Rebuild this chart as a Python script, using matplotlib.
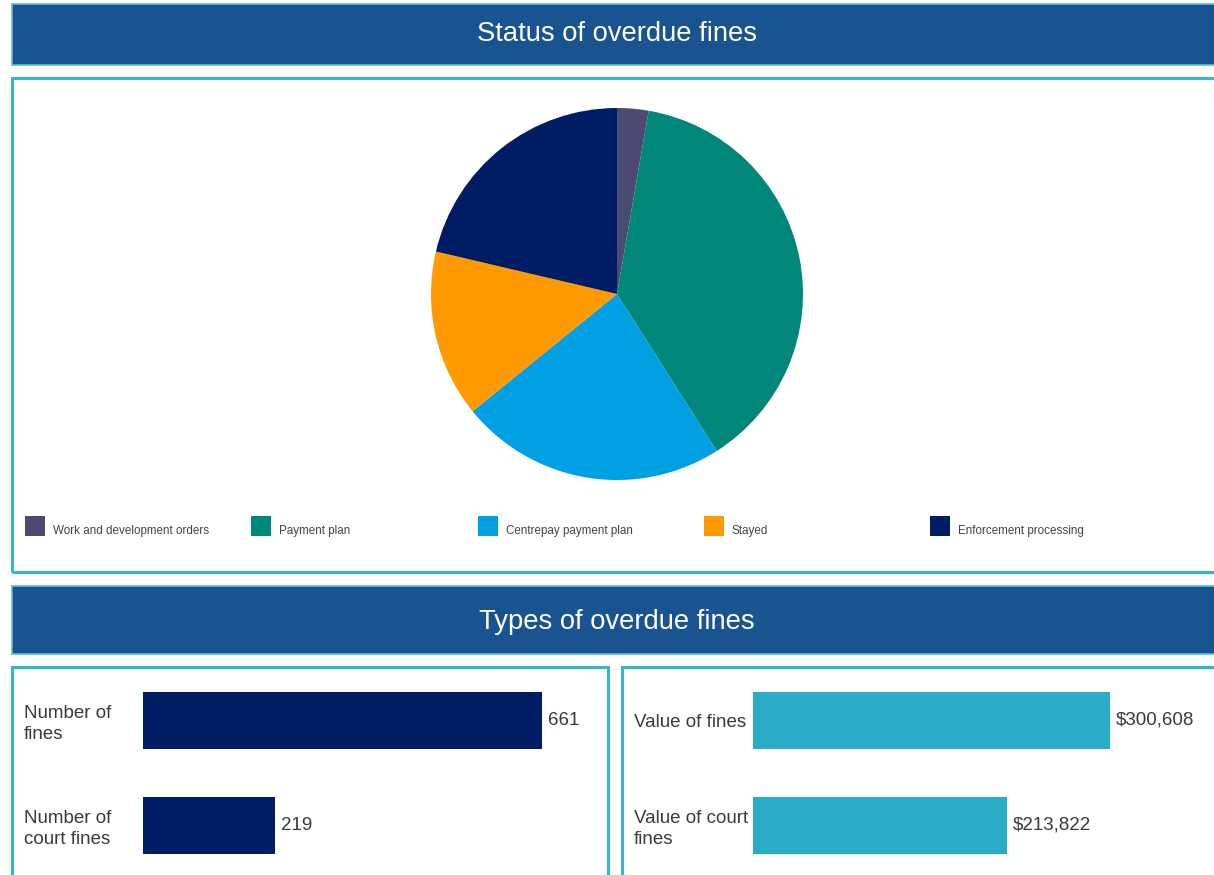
import matplotlib
matplotlib.use("Agg")
import matplotlib.pyplot as plt
from matplotlib.patches import Rectangle

plt.rcParams['font.family'] = ['Liberation Sans', 'DejaVu Sans']

# ---- data ----
status_labels = ["Work and development orders", "Payment plan", "Centrepay payment plan",
                 "Stayed", "Enforcement processing"]
status_values = [18, 253, 153, 96, 141]
status_colors = ["#4b4a73", "#00877a", "#00a0e3", "#ff9a00", "#001d63"]

count_labels = ["Number of\nfines", "Number of\ncourt fines"]
count_values = [661, 219]
count_color = "#001c62"

value_labels = ["Value of fines", "Value of court\nfines"]
value_values = [300608, 213822]
value_color = "#2aacc6"

W, H = 1214, 875
fig = plt.figure(figsize=(W / 100, H / 100), dpi=100)
fig.patch.set_facecolor("white")


def frac(x0, y0, x1, y1):
    """pixel box (top-left origin) -> figure fraction [l, b, w, h]"""
    return [x0 / W, (H - y1) / H, (x1 - x0) / W, (y1 - y0) / H]


def box(x0, y0, x1, y1, fc="none", ec="#38b6cd", lw=2.2):
    l, b, w, h = frac(x0, y0, x1, y1)
    fig.add_artist(Rectangle((l, b), w, h, transform=fig.transFigure,
                             facecolor=fc, edgecolor=ec, linewidth=lw, zorder=0))


# title bars
box(12, 4, 1225, 65, fc="#1a5490", ec="#5bbdd6", lw=1.2)
fig.text(617 / W, 1 - 34 / H, "Status of overdue fines", color="white",
         fontsize=19.7, ha="center", va="center")
box(12, 586, 1225, 654, fc="#1a5490", ec="#5bbdd6", lw=1.2)
fig.text(617 / W, 1 - 622 / H, "Types of overdue fines", color="white",
         fontsize=19.7, ha="center", va="center")

# panels
box(12, 78, 1225, 572)
box(12, 667, 608, 890)
box(622, 667, 1225, 890)

# ---- pie ----
cx, cy, r = 617, 294, 186
axp = fig.add_axes(frac(cx - r, cy - r, cx + r, cy + r))
axp.pie(status_values, colors=status_colors, startangle=90, counterclock=False,
        wedgeprops=dict(linewidth=0), radius=1.0)
axp.set_xlim(-1, 1)
axp.set_ylim(-1, 1)
axp.set_aspect("equal")
axp.axis("off")

# legend (manual, equal spacing)
for i, (lab, col) in enumerate(zip(status_labels, status_colors)):
    x = 25 + i * 226.3
    l, b, w, h = frac(x, 516, x + 20, 536)
    fig.add_artist(Rectangle((l, b), w, h, transform=fig.transFigure,
                             facecolor=col, edgecolor="none"))
    fig.text((x + 28) / W, 1 - 531 / H, lab, fontsize=8.4, color="#444444",
             ha="left", va="center")


# ---- bars ----
def bar_panel(rect_px, labels, values, color, fmt):
    ax = fig.add_axes(frac(*rect_px))
    y = list(range(len(values)))
    ax.barh(y, values, height=0.543, color=color)
    ax.set_xlim(0, max(values))
    ax.set_ylim(1.476, -0.505)
    ax.set_yticks(y)
    ax.set_yticklabels(labels, ha="left", fontsize=13.5, color="#3a3a3a",
                       linespacing=1.32)
    ax.tick_params(axis="y", length=0, pad=119 * 0.72)
    ax.set_xticks([])
    for s in ax.spines.values():
        s.set_visible(False)
    ax.patch.set_alpha(0)
    for yi, v in zip(y, values):
        ax.annotate(fmt(v), xy=(v, yi), xytext=(4.3, 0), textcoords="offset points",
                    va="center", ha="left", fontsize=13.5, color="#3a3a3a",
                    annotation_clip=False)
    return ax


bar_panel((143, 667, 542, 875), count_labels, count_values, count_color,
          lambda v: f"{v}")
bar_panel((753, 667, 1110, 875), value_labels, value_values, value_color,
          lambda v: f"${v:,}")

fig.savefig("out.png", dpi=100, facecolor="white")
